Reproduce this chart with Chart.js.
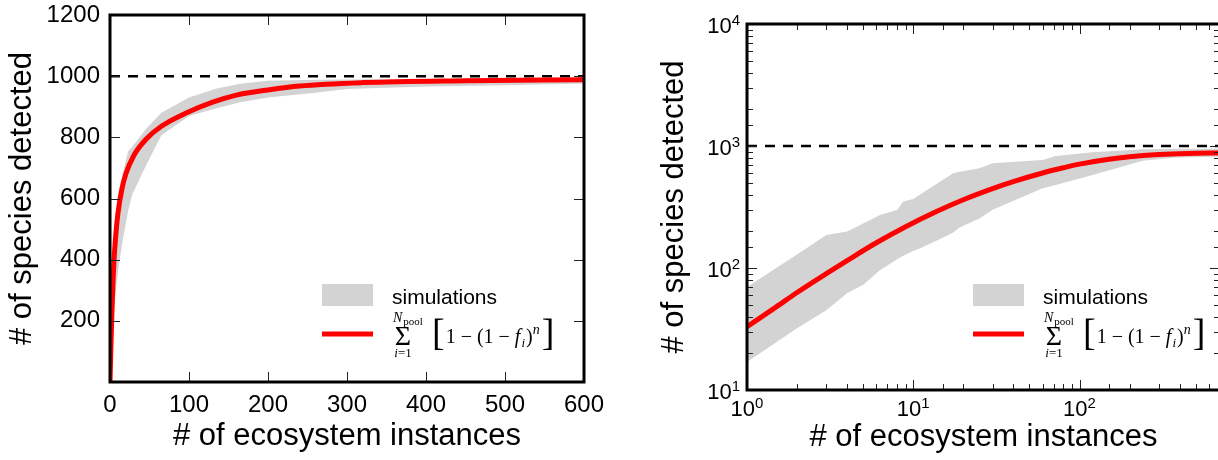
<!DOCTYPE html>
<html lang="en">
<head>
<meta charset="utf-8">
<title>Species detected vs ecosystem instances</title>
<script src="https://cdn.jsdelivr.net/npm/chart.js@4"></script>
<style>
    html, body { margin: 0; padding: 0; background: #fff; width: 1218px; height: 460px; overflow: hidden; }
    .panel { position: absolute; top: 0; height: 460px; }
    #left { left: 0; width: 609px; }
    #right { left: 620px; width: 620px; }
</style>
</head>
<body>
<div class="panel" id="left"><canvas id="linChart"></canvas></div>
<div class="panel" id="right"><canvas id="logChart"></canvas></div>

<script>
// species pool size (dashed reference line)
const poolSize = 1000;

// left panel: linear axes
const linInstances = [0, 1, 2, 3, 4, 5, 7, 10, 15, 20, 30, 45, 65, 95, 130, 160, 200, 240, 320, 450, 600];
const linExpected  = [0, 100, 190, 270, 340, 395, 470, 550, 630, 680, 740, 792, 836, 878, 915, 938, 955, 968, 979, 985, 988];
const linBandN     = [0, 1, 2, 4, 6, 10, 16, 23, 28, 45, 65, 100, 135, 165, 200, 260, 300, 400, 500, 600];
const linBandHigh  = [0, 150, 260, 420, 520, 610, 680, 755, 768, 826, 880, 930, 960, 975, 985, 988, 989, 990, 990, 992];
const linBandLow   = [0, 40, 90, 200, 260, 360, 462, 560, 612, 705, 807, 870, 895, 915, 930, 946, 958, 966, 970, 976];
const linXRange = [0, 600];
const linYRange = [0, 1200];

// right panel: log-log axes
const logInstances = [1, 1.5, 2, 3, 4, 6, 9, 14, 20, 30, 40, 60, 80, 100, 150, 200, 300, 450, 700];
const logExpected  = [33, 48, 63, 90, 115, 161, 218, 293, 363, 448, 511, 601, 663, 710, 780, 817, 851, 869, 877];
const logBandN     = [1, 2, 3, 4, 5, 6.3, 8, 8.7, 10, 11, 14, 17.4, 19, 25, 30, 60, 72, 120, 240, 380, 700];
const logBandHigh  = [70, 129, 186, 199, 232, 272, 299, 350, 368, 400, 494, 597, 615, 656, 721, 767, 828, 888, 939, 950, 950];
const logBandLow   = [17, 32, 45, 62, 73, 96, 118, 126, 138, 145, 169, 195, 215, 255, 300, 450, 480, 578, 758, 805, 815];
const logXRange = [1, 700];
const logYRange = [10, 10000];

const xTitle = '# of ecosystem instances';
const yTitle = '# of species detected';
const bandLabel = 'simulations';

Chart.defaults.font.family = '"Liberation Sans", Arial, sans-serif';
Chart.defaults.color = '#000';

const zip = (xs, ys) => xs.map((x, i) => ({ x, y: ys[i] }));
const SERIF = '"Liberation Serif", "Times New Roman", serif';

function drawLegend(ctx, ax, ay) {
    // grey patch + label
    ctx.fillStyle = '#d3d3d3';
    ctx.fillRect(ax, ay, 51, 22);
    ctx.fillStyle = '#000';
    ctx.textAlign = 'left';
    ctx.textBaseline = 'alphabetic';
    ctx.font = '21px "Liberation Sans", Arial, sans-serif';
    ctx.fillText(bandLabel, ax + 70, ay + 20);

    // red line
    ctx.strokeStyle = '#ff0000';
    ctx.lineWidth = 5;
    ctx.beginPath();
    ctx.moveTo(ax, ay + 50);
    ctx.lineTo(ax + 51, ay + 50);
    ctx.stroke();

    // sum_{i=1}^{N_pool} [1 - (1 - f_i)^n]
    const sx = ax + 81;
    ctx.font = '28px ' + SERIF;
    ctx.textAlign = 'center';
    ctx.fillText('\u03A3', sx, ay + 61);
    ctx.textAlign = 'left';
    ctx.font = 'italic 14px ' + SERIF;
    ctx.fillText('N', ax + 71, ay + 38);
    const w = ctx.measureText('N').width;
    ctx.font = '11px ' + SERIF;
    ctx.fillText('pool', ax + 72 + w, ay + 41);
    ctx.font = 'italic 13px ' + SERIF;
    const wi = ctx.measureText('i').width;
    ctx.font = '13px ' + SERIF;
    const we = ctx.measureText('=1').width;
    const lx = sx - (wi + we) / 2;
    ctx.font = 'italic 13px ' + SERIF;
    ctx.fillText('i', lx, ay + 73);
    ctx.font = '13px ' + SERIF;
    ctx.fillText('=1', lx + wi, ay + 73);

    let cx = ax + 110;
    ctx.font = '38px ' + SERIF;
    ctx.fillText('[', cx, ay + 61);
    cx += ctx.measureText('[').width + 1;
    ctx.font = '20px ' + SERIF;
    const part = '1 \u2212 (1 \u2212 ';
    ctx.fillText(part, cx, ay + 59);
    cx += ctx.measureText(part).width;
    ctx.font = 'italic 20px ' + SERIF;
    ctx.fillText('f', cx, ay + 59);
    cx += ctx.measureText('f').width + 1;
    ctx.font = 'italic 13px ' + SERIF;
    ctx.fillText('i', cx, ay + 63);
    cx += ctx.measureText('i').width + 1;
    ctx.font = '20px ' + SERIF;
    ctx.fillText(')', cx, ay + 59);
    cx += ctx.measureText(')').width;
    ctx.font = 'italic 14px ' + SERIF;
    ctx.fillText('n', cx, ay + 50);
    cx += ctx.measureText('n').width + 2;
    ctx.font = '38px ' + SERIF;
    ctx.fillText(']', cx, ay + 61);
}

// spines, inward ticks (matplotlib-like), power-of-ten labels and the legend
const frame = {
    id: 'frame',
    afterDatasetsDraw(chart, args, opts) {
        const { ctx, chartArea: a, scales: { x, y } } = chart;
        const isDecade = v => Math.abs(Math.log10(v) - Math.round(Math.log10(v))) < 1e-6;
        const tickLen = (s, v) => (s.type === 'logarithmic' && !isDecade(v)) ? 6 : 10;
        const seg = (x1, y1, x2, y2) => { ctx.beginPath(); ctx.moveTo(x1, y1); ctx.lineTo(x2, y2); ctx.stroke(); };

        ctx.save();
        ctx.strokeStyle = '#222';
        ctx.lineWidth = 1;
        x.ticks.forEach(t => {
            const px = Math.round(x.getPixelForValue(t.value)) + 0.5;
            if (px < a.left - 1 || px > a.right + 1) return;
            const len = tickLen(x, t.value);
            seg(px, a.bottom, px, a.bottom - len);
            seg(px, a.top, px, a.top + len);
        });
        y.ticks.forEach(t => {
            const py = Math.round(y.getPixelForValue(t.value)) + 0.5;
            if (py < a.top - 1 || py > a.bottom + 1) return;
            const len = tickLen(y, t.value);
            seg(a.left, py, a.left + len, py);
            seg(a.right, py, a.right - len, py);
        });

        ctx.strokeStyle = '#000';
        ctx.lineWidth = 3;
        ctx.strokeRect(a.left, a.top, a.right - a.left, a.bottom - a.top);

        if (opts.powerLabels) {
            const big = '22px "Liberation Sans", Arial, sans-serif';
            const small = '15px "Liberation Sans", Arial, sans-serif';
            const label = (v, cxp, baseY, align) => {
                const e = String(Math.round(Math.log10(v)));
                ctx.font = big;
                const w1 = ctx.measureText('10').width;
                ctx.font = small;
                const w2 = ctx.measureText(e).width;
                const left = align === 'center' ? cxp - (w1 + w2) / 2 : cxp - (w1 + w2);
                ctx.font = big;
                ctx.fillText('10', left, baseY);
                ctx.font = small;
                ctx.fillText(e, left + w1, baseY - 8);
            };
            ctx.fillStyle = '#000';
            ctx.textAlign = 'left';
            ctx.textBaseline = 'alphabetic';
            x.ticks.filter(t => isDecade(t.value)).forEach(t => {
                label(t.value, x.getPixelForValue(t.value), a.bottom + 26, 'center');
            });
            y.ticks.filter(t => isDecade(t.value)).forEach(t => {
                label(t.value, a.left - 7, y.getPixelForValue(t.value) + 9, 'right');
            });
        }

        drawLegend(ctx, a.right + opts.legendDx, a.bottom + opts.legendDy);
        ctx.restore();
    }
};

// keep the plot box exactly where the layout padding puts it
const noScalePadding = s => { s.paddingLeft = 0; s.paddingRight = 0; s.paddingTop = 0; s.paddingBottom = 0; };

function buildConfig(p) {
    return {
        type: 'line',
        data: {
            datasets: [
                { label: bandLabel, data: zip(p.bandN, p.bandHigh), fill: '+1', backgroundColor: '#d3d3d3',
                  borderWidth: 0, borderColor: 'rgba(0,0,0,0)', pointRadius: 0, order: 2 },
                { label: 'band low', data: zip(p.bandN, p.bandLow), fill: false,
                  borderWidth: 0, borderColor: 'rgba(0,0,0,0)', pointRadius: 0, order: 3 },
                { label: 'expected', data: zip(p.n, p.expected), borderColor: '#ff0000', borderWidth: 5,
                  pointRadius: 0, cubicInterpolationMode: 'monotone', fill: false, order: 0 },
                { label: 'pool', data: [{ x: p.xRange[0], y: poolSize }, { x: p.xRange[1], y: poolSize }],
                  borderColor: '#000', borderWidth: 2.5, borderDash: [10, 8], pointRadius: 0, fill: false, order: 1 }
            ]
        },
        options: {
            responsive: true,
            maintainAspectRatio: false,
            animation: false,
            events: [],
            layout: { padding: p.padding },
            plugins: {
                legend: { display: false },
                tooltip: { enabled: false },
                frame: { legendDx: p.legend[0], legendDy: p.legend[1], powerLabels: p.log }
            },
            scales: {
                x: {
                    type: p.log ? 'logarithmic' : 'linear',
                    min: p.xRange[0], max: p.xRange[1],
                    grid: { display: false, drawTicks: false },
                    border: { display: false },
                    ticks: p.log ? { display: false, autoSkip: false }
                                 : { stepSize: 100, font: { size: 24 }, padding: 9, maxRotation: 0, autoSkip: false },
                    title: { display: true, text: xTitle, font: { size: 31 }, padding: { top: 0, bottom: p.xTitlePad } },
                    afterFit: s => { s.height = p.xHeight; noScalePadding(s); }
                },
                y: {
                    type: p.log ? 'logarithmic' : 'linear',
                    min: p.yRange[0], max: p.yRange[1],
                    grid: { display: false, drawTicks: false },
                    border: { display: false },
                    ticks: p.log ? { display: false, autoSkip: false }
                                 : { stepSize: 200, font: { size: 24 }, padding: 10, autoSkip: false,
                                     callback: v => v === 0 ? '' : v },
                    title: { display: true, text: yTitle, font: { size: 31 }, padding: { top: p.yTitlePad, bottom: 0 } },
                    afterFit: s => { s.width = p.yWidth; noScalePadding(s); }
                }
            }
        },
        plugins: [frame]
    };
}

new Chart(document.getElementById('linChart'), buildConfig({
    log: false, n: linInstances, expected: linExpected,
    bandN: linBandN, bandHigh: linBandHigh, bandLow: linBandLow,
    xRange: linXRange, yRange: linYRange,
    padding: { top: 15, right: 25, left: 0, bottom: 0 },
    xHeight: 78, yWidth: 110, xTitlePad: 5, yTitlePad: 4,
    legend: [-262, -98]
}));

new Chart(document.getElementById('logChart'), buildConfig({
    log: true, n: logInstances, expected: logExpected,
    bandN: logBandN, bandHigh: logBandHigh, bandLow: logBandLow,
    xRange: logXRange, yRange: logYRange,
    padding: { top: 24, right: 20, left: 0, bottom: 0 },
    xHeight: 70, yWidth: 127, xTitlePad: 4, yTitlePad: 36,
    legend: [-247, -106]
}));
</script>
</body>
</html>
